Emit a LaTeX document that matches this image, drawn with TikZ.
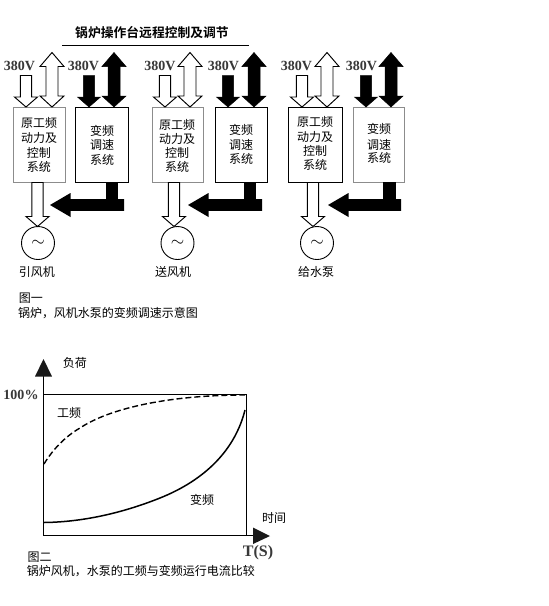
\documentclass[tikz,border=0pt]{standalone}
\usepackage{fontspec}
\setmainfont{Liberation Serif}
\newfontfamily\cjk{Noto Sans CJK SC}
\newfontfamily\cjkb{Noto Sans CJK SC Bold}
\usetikzlibrary{calc}
% block arrows, from a start point to an end point on the same vertical or horizontal
\newcommand\blockdown[3]{\draw[#1] let \p1=(#2),\p2=(#3) in
  (\x1-5.7pt,\y1) -- (\x1-5.7pt,\y2+10pt) -- (\x1-11.5pt,\y2+10pt) -- (\x2,\y2)
  -- (\x1+11.5pt,\y2+10pt) -- (\x1+5.7pt,\y2+10pt) -- (\x1+5.7pt,\y1) -- cycle;}
\newcommand\blockboth[3]{\draw[#1] let \p1=(#2),\p2=(#3) in
  (\x1,\y1) -- (\x1-12pt,\y1-14pt) -- (\x1-6pt,\y1-14pt) -- (\x1-6pt,\y2+11pt) -- (\x1-12pt,\y2+11pt)
  -- (\x2,\y2) -- (\x1+12pt,\y2+11pt) -- (\x1+6pt,\y2+11pt) -- (\x1+6pt,\y1-14pt) -- (\x1+12pt,\y1-14pt) -- cycle;}
\newcommand\blockleft[3]{\fill[#1] let \p1=(#2),\p2=(#3) in
  (\x1,\y1+5.9pt) -- (\x2+20.5pt,\y1+5.9pt) -- (\x2+20.5pt,\y1+12pt) -- (\x2,\y2)
  -- (\x2+20.5pt,\y1-12pt) -- (\x2+20.5pt,\y1-5.9pt) -- (\x1,\y1-5.9pt) -- cycle;}
\tikzset{
  every node/.style={inner sep=0pt,outer sep=0pt},
  cn/.style={font=\cjk\fontsize{12}{14}\selectfont},
  cnleft/.style={cn,anchor=west},
  boxtext/.style={cn,align=center},
  boxgray/.style={draw=black!45,line width=.8pt,fill=white},
  boxblack/.style={draw=black,line width=.9pt,fill=white},
  volt/.style={font=\bfseries\fontsize{14}{16}\selectfont,text=black!78},
  motor/.style={circle,draw=black,line width=.9pt,minimum size=33pt,font=\fontsize{18}{18}\selectfont},
  wh/.style={draw=black,line width=.95pt,fill=white,line join=miter},
  bk/.style={draw=black,line width=.5pt,fill=black},
  axisline/.style={draw=black,line width=.9pt},
  axtip/.style={fill=black!90}
}
\begin{document}
\begin{tikzpicture}[x=1pt,y=-1pt]
\useasboundingbox (0,0) rectangle (549,606);
\fill[white] (0,0) rectangle (549,606);

% title
\node[font=\cjkb\fontsize{12.8}{14}\selectfont] (title) at (152,33) {锅炉操作台远程控制及调节};
\coordinate (ruleL) at (62,45); \coordinate (ruleR) at (249,45);
\draw[line width=.8pt] (ruleL) -- (ruleR);

% boxes
\node[boxgray, minimum width=52pt,minimum height=75pt] (b1) at (39,144.5) {};
\node[boxblack,minimum width=53pt,minimum height=75pt] (b2) at (101.5,144.5) {};
\node[boxgray, minimum width=51pt,minimum height=75pt] (b3) at (177.5,144.5) {};
\node[boxblack,minimum width=52pt,minimum height=75pt] (b4) at (241,144.5) {};
\node[boxblack,minimum width=54pt,minimum height=75pt] (b5) at (315,144.5) {};
\node[boxgray, minimum width=51pt,minimum height=75pt] (b6) at (378.5,144.5) {};

% box texts
\node[boxtext] (t1a) at (39,123) {原工频}; \node[boxtext] (t1b) at (39,137.5) {动力及};
\node[boxtext] (t1c) at (39,153) {控制}; \node[boxtext] (t1d) at (39,167) {系统};
\node[boxtext] (t2a) at (102,131) {变频}; \node[boxtext] (t2b) at (102,145) {调速}; \node[boxtext] (t2c) at (102,160) {系统};
\node[boxtext] (t3a) at (177,125) {原工频}; \node[boxtext] (t3b) at (177,138.5) {动力及};
\node[boxtext] (t3c) at (177,153) {控制}; \node[boxtext] (t3d) at (177,167) {系统};
\node[boxtext] (t4a) at (241,130) {变频}; \node[boxtext] (t4b) at (241,145) {调速}; \node[boxtext] (t4c) at (241,159) {系统};
\node[boxtext] (t5a) at (315,122) {原工频}; \node[boxtext] (t5b) at (315,137) {动力及};
\node[boxtext] (t5c) at (315,151) {控制}; \node[boxtext] (t5d) at (315,165) {系统};
\node[boxtext] (t6a) at (379,129) {变频}; \node[boxtext] (t6b) at (379,145) {调速}; \node[boxtext] (t6c) at (379,158) {系统};

% 380V labels
\node[volt] (v1) at (19.5,66) {380V};
\node[volt] (v2) at (83.5,66) {380V};
\node[volt] (v3) at (160,66) {380V};
\node[volt] (v4) at (223.5,66) {380V};
\node[volt] (v5) at (296.5,66) {380V};
\node[volt] (v6) at (361.5,66) {380V};

% arrow starts
\coordinate (s1) at (26,75.5);  \coordinate (d1) at (52,52.5);
\coordinate (s2) at (89,75.5);  \coordinate (d2) at (114,52.5);
\coordinate (s3) at (165,75.5); \coordinate (d3) at (190,52.5);
\coordinate (s4) at (228,75.5); \coordinate (d4) at (254,52.5);
\coordinate (s5) at (302,75.5); \coordinate (d5) at (327,52.5);
\coordinate (s6) at (366,75.5); \coordinate (d6) at (391,52.5);

\blockdown{wh}{s1}{s1 |- b1.north}
\blockboth{wh}{d1}{d1 |- b1.north}
\blockdown{bk}{s2}{s2 |- b2.north}
\blockboth{bk}{d2}{d2 |- b2.north}
\blockdown{wh}{s3}{s3 |- b3.north}
\blockboth{wh}{d3}{d3 |- b3.north}
\blockdown{bk}{s4}{s4 |- b4.north}
\blockboth{bk}{d4}{d4 |- b4.north}
\blockdown{wh}{s5}{s5 |- b5.north}
\blockboth{wh}{d5}{d5 |- b5.north}
\blockdown{bk}{s6}{s6 |- b6.north}
\blockboth{bk}{d6}{d6 |- b6.north}

% motors
\node[motor] (m1) at (38,243) {$\sim$};
\node[motor] (m2) at (177.5,243) {$\sim$};
\node[motor] (m3) at (317,243) {$\sim$};
\coordinate (o1) at (37.5,182.5); \coordinate (o2) at (174,182.5); \coordinate (o3) at (313,182.5);
\blockdown{wh}{o1}{o1 |- m1.north}
\blockdown{wh}{o2}{o2 |- m2.north}
\blockdown{wh}{o3}{o3 |- m3.north}

% return arrows
\coordinate (r1) at (124,205); \coordinate (q1) at (50,205);  \coordinate (u1) at (112,205);
\coordinate (r2) at (262,205); \coordinate (q2) at (188,205); \coordinate (u2) at (250,205);
\coordinate (r3) at (401,205); \coordinate (q3) at (328,205); \coordinate (u3) at (389.5,205);
\draw[line width=12pt] (u1 |- b2.south) -- (u1);
\draw[line width=12pt] (u2 |- b4.south) -- (u2);
\draw[line width=12.5pt] (u3 |- b6.south) -- (u3);
\blockleft{black}{r1}{q1}
\blockleft{black}{r2}{q2}
\blockleft{black}{r3}{q3}

% labels figure 1
\node[cn] (n1) at (37,272) {引风机};
\node[cn] (n2) at (173,272) {送风机};
\node[cn] (n3) at (316,272) {给水泵};
\node[cnleft] (f1) at (19,298) {图一};
\node[cnleft] (f1c) at (18,313) {锅炉，风机水泵的变频调速示意图};

% chart
\coordinate (O) at (43,535);
\coordinate (Yt) at (43,376);
\coordinate (Xt) at (253,535);
\coordinate (TL) at (43,394.5);
\coordinate (TR) at (246,394.5);
\coordinate (BR) at (246,535);
\draw[axisline] (O) -- (Yt);
\draw[axisline] (O) -- (Xt);
\draw[axisline] (TL) -- (TR) -- (BR);
\fill[axtip] (43.5,359) -- (52,376.5) -- (35,376.5) -- cycle;
\fill[axtip] (270,536) -- (253,527.5) -- (253,544) -- cycle;

\draw[line width=1.4pt,dash pattern=on 6pt off 3pt]
  (44,464) .. controls (53,449) and (66,436) .. (80,428)
  .. controls (110,408) and (170,395) .. (245,395);
\draw[line width=1.5pt]
  (44,522.5) .. controls (85,522) and (125,512) .. (160,498)
  .. controls (205,480) and (235,450) .. (245,410);

\node[cn] (yl) at (75,363) {负荷};
\node[font=\bfseries\fontsize{14}{16}\selectfont,text=black!78] (p100) at (21,395) {100\kern.5pt\%};
\node[cn] (gp) at (69,413) {工频};
\node[cn] (bp) at (202,500) {变频};
\node[cn] (xl) at (274,518) {时间};
\node[font=\bfseries\fontsize{16}{18}\selectfont,text=black!78] (ts) at (258,553) {T(S)};
\node[cnleft] (f2) at (27.5,557) {图二};
\node[cnleft] (f2c) at (27,571) {锅炉风机，水泵的工频与变频运行电流比较};
\end{tikzpicture}
\end{document}
